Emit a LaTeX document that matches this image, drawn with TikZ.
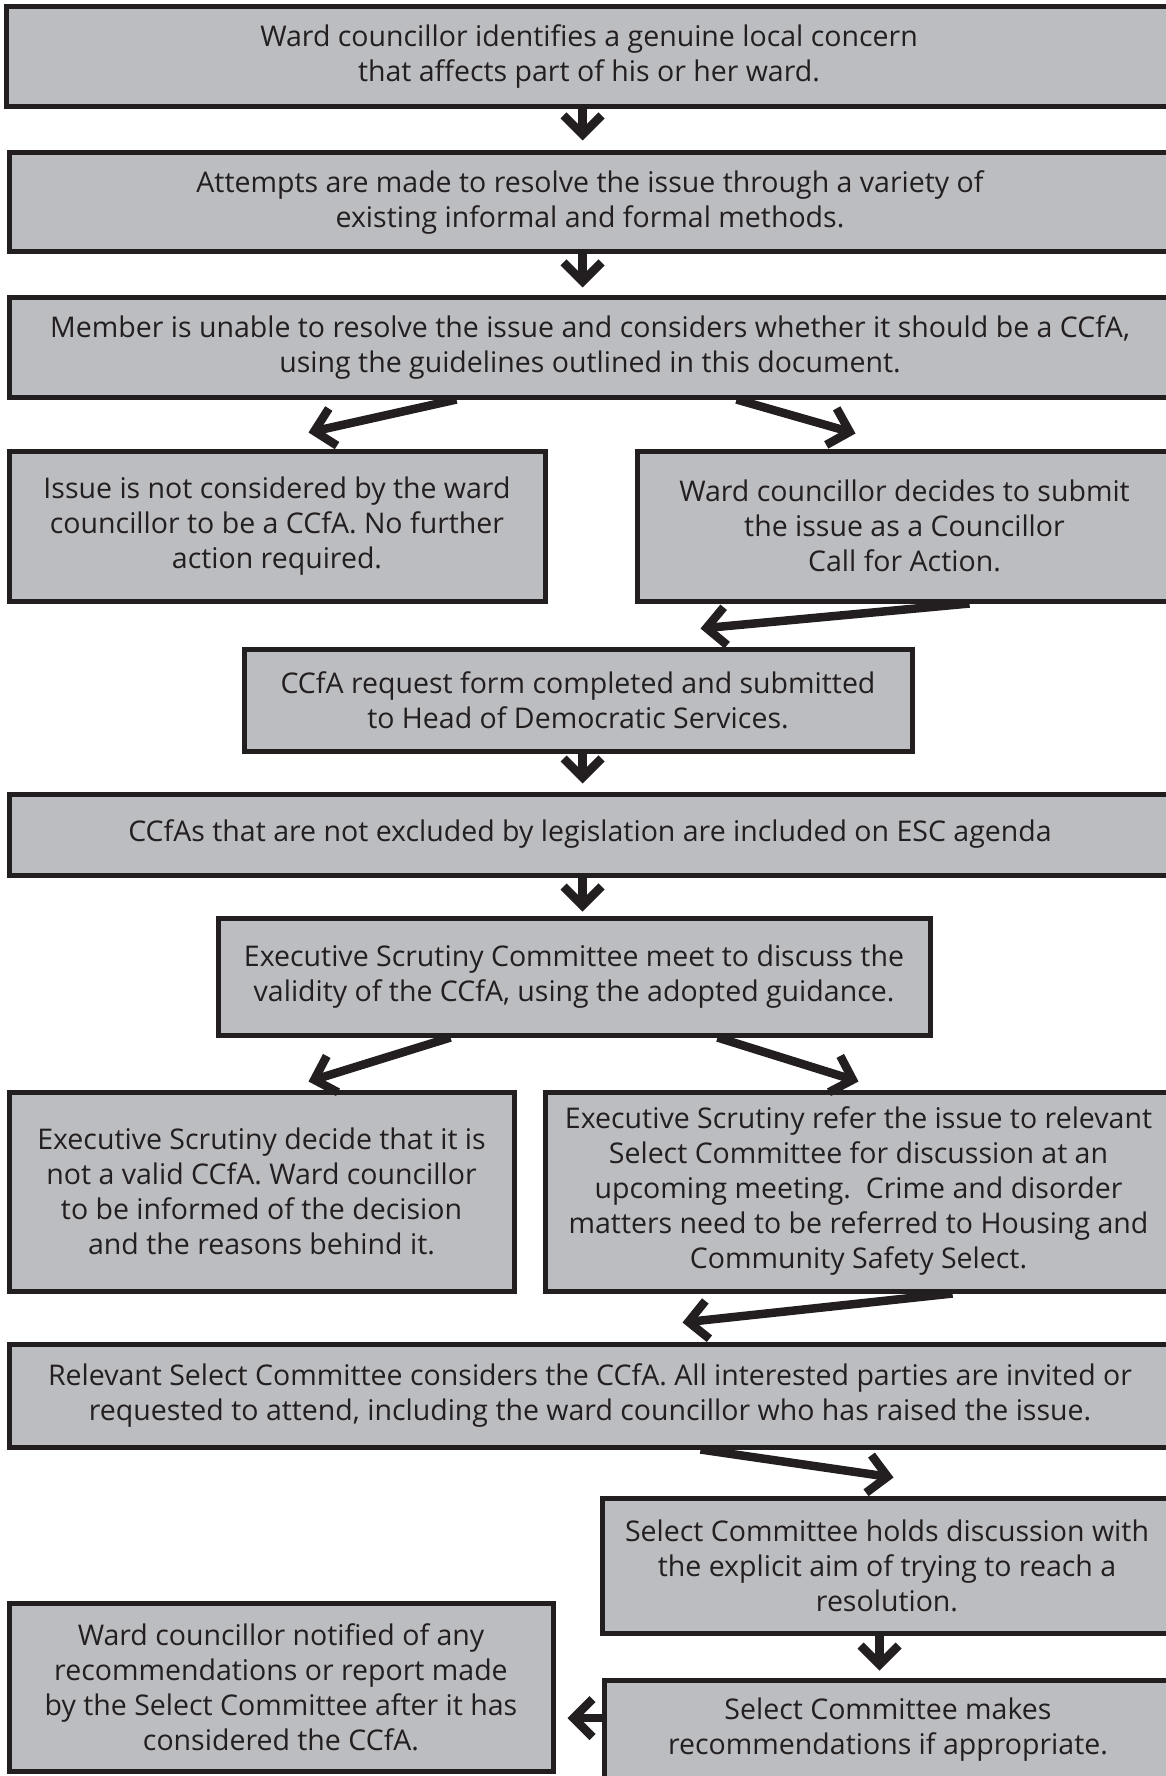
\documentclass[tikz,border=0pt]{standalone}
\usepackage{fontspec}
\setmainfont{Open Sans}
\usetikzlibrary{arrows.meta}
\definecolor{boxfill}{HTML}{BCBDC0}
\definecolor{boxline}{HTML}{231F20}
\tikzset{
  box/.style={draw=boxline, fill=boxfill, line width=5pt, align=center, inner sep=0pt,
    text=boxline, font=\fontsize{28.5}{35}\selectfont},
  arr/.style={draw=boxline, line width=8.5pt, -{Straight Barb[length=19pt,width=38pt,line width=8.5pt,sharp]}},
}
\begin{document}
\begin{tikzpicture}[x=1pt,y=-1pt]
\useasboundingbox (0,0) rectangle (1166,1776);
\fill[white] (0,0) rectangle (1166,1776);
\clip (0,0) rectangle (1166,1776);
\node[box, minimum width=1166pt, minimum height=100pt] (b1) at (589,57)
  {Ward councillor identifies a genuine local concern\\that affects part of his or her ward.};
\node[box, minimum width=1162pt, minimum height=99pt] (b2) at (590,202.5)
  {Attempts are made to resolve the issue through a variety of\\existing informal and formal methods.};
\node[box, minimum width=1162pt, minimum height=99pt] (b3) at (590,347.5)
  {Member is unable to resolve the issue and considers whether it should be a CCfA,\\using the guidelines outlined in this document.};
\node[box, minimum width=536pt, minimum height=150pt] (b4) at (277,526)
  {Issue is not considered by the ward\\councillor to be a CCfA. No further\\action required.};
\node[box, minimum width=535pt, minimum height=150pt] (b5) at (904.5,526)
  {Ward councillor decides to submit\\the issue as a Councillor\\Call for Action.};
\node[box, minimum width=668pt, minimum height=102pt] (b6) at (578,700)
  {CCfA request form completed and submitted\\to Head of Democratic Services.};
\node[box, minimum width=1162pt, minimum height=81pt] (b7) at (590,834.5)
  {CCfAs that are not excluded by legislation are included on ESC agenda};
\node[box, minimum width=712pt, minimum height=117pt] (b8) at (574,976.5)
  {Executive Scrutiny Committee meet to discuss the\\validity of the CCfA, using the adopted guidance.};
\node[box, minimum width=505pt, minimum height=199pt] (b9) at (261.5,1191.5)
  {Executive Scrutiny decide that it is\\not a valid CCfA. Ward councillor\\to be informed of the decision\\and the reasons behind it.};
\node[box, minimum width=627pt, minimum height=199pt] (b10) at (858.5,1191.5)
  {Executive Scrutiny refer the issue to relevant\\Select Committee for discussion at an\\upcoming meeting.\ \ Crime and disorder\\matters need to be referred to Housing and\\Community Safety Select.};
\node[box, minimum width=1162pt, minimum height=103pt] (b11) at (590,1395.5)
  {Relevant Select Committee considers the CCfA. All interested parties are invited or\\requested to attend, including the ward councillor who has raised the issue.};
\node[box, minimum width=570pt, minimum height=135pt] (b12) at (887,1565.5)
  {Select Committee holds discussion with\\the explicit aim of trying to reach a\\resolution.};
\node[box, minimum width=568pt, minimum height=100pt] (b13) at (888,1730)
  {Select Committee makes\\recommendations if appropriate.};
\node[box, minimum width=544pt, minimum height=168pt] (b14) at (281,1687)
  {Ward councillor notified of any\\recommendations or report made\\by the Select Committee after it has\\considered the CCfA.};
\coordinate (c13) at ([yshift=12pt]b13.west);
\coordinate (c14) at ([xshift=12pt]b14.east);
% connectors
\draw[arr] ([xshift=579pt]b1.south west) -- ([xshift=576pt,yshift=10pt]b2.north west);
\draw[arr] ([xshift=576pt]b2.south west) -- ([xshift=576pt,yshift=8pt]b3.north west);
\draw[arr] ([xshift=450pt]b3.south west) -- ([xshift=302pt,yshift=16pt]b4.north west);
\draw[arr] ([xshift=730pt]b3.south west) -- ([xshift=221pt,yshift=15pt]b5.north west);
\draw[arr] ([xshift=335pt]b5.south west) -- ([xshift=459pt,yshift=18pt]b6.north west);
\draw[arr] ([xshift=341pt]b6.south west) -- ([xshift=576pt,yshift=8pt]b7.north west);
\draw[arr] ([xshift=576pt]b7.south west) -- ([xshift=367pt,yshift=4pt]b8.north west);
\draw[arr] ([xshift=235pt]b8.south west) -- ([xshift=302pt,yshift=8pt]b9.north west);
\draw[arr] ([xshift=502pt]b8.south west) -- ([xshift=316pt,yshift=8pt]b10.north west);
\draw[arr] ([xshift=410pt]b10.south west) -- ([xshift=676pt,yshift=19pt]b11.north west);
\draw[arr] ([xshift=694pt]b11.south west) -- ([xshift=294pt,yshift=18pt]b12.north west);
\draw[arr] ([xshift=280pt]b12.south west) -- ([xshift=278pt,yshift=7pt]b13.north west);
\draw[arr] (c13) -- (c14 |- c13);
\end{tikzpicture}
\end{document}
